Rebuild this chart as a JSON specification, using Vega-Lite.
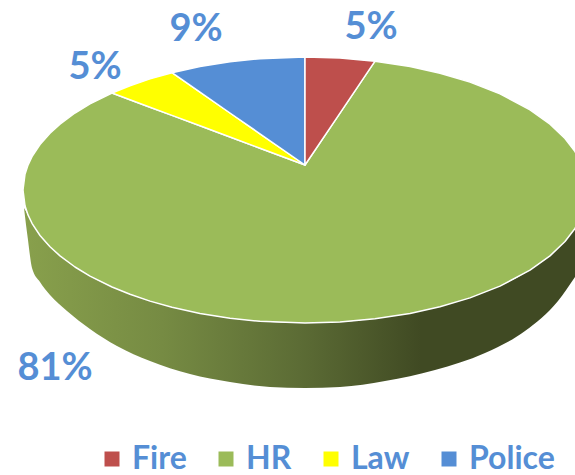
{"$schema":"https://vega.github.io/schema/vega-lite/v6.json","width":575,"height":475,"padding":0,"autosize":"none","background":"white","view":{"stroke":null},"config":{"font":"Lato"},
"layer":[
{"data":{"values":[
{"x":24,"top":208,"bottom":208},{"x":28,"top":214.9,"bottom":240},{"x":32,"top":223.3,"bottom":268},{"x":40,"top":235.5,"bottom":282},{"x":50,"top":246.8,"bottom":295},{"x":67,"top":261,"bottom":311},{"x":90,"top":276.1,"bottom":329},{"x":117,"top":289,"bottom":346},{"x":150,"top":301.1,"bottom":361},{"x":190,"top":311,"bottom":374},{"x":230,"top":318.2,"bottom":382},{"x":270,"top":322,"bottom":387},{"x":305,"top":323,"bottom":388},{"x":340,"top":322,"bottom":387},{"x":385,"top":317,"bottom":381},{"x":435,"top":307.5,"bottom":370},{"x":485,"top":292,"bottom":353},{"x":525,"top":273,"bottom":331},{"x":558,"top":248,"bottom":301},{"x":575,"top":228.4,"bottom":277}]},
"mark":{"type":"area","interpolate":"monotone","clip":true,"fill":{"gradient":"linear","x1":0,"y1":0,"x2":1,"y2":0,"stops":[{"offset":0,"color":"#88A04C"},{"offset":0.25,"color":"#768B43"},{"offset":0.5,"color":"#5C6C35"},{"offset":0.72,"color":"#404A23"},{"offset":1,"color":"#404A23"}]}},
"encoding":{"x":{"field":"x","type":"quantitative","scale":{"domain":[0,575]},"axis":null},"y":{"field":"top","type":"quantitative","scale":{"domain":[475,0]},"axis":null},"y2":{"field":"bottom"}}},
{"data":{"values":[
{"slice":"HR","x":23,"top":190,"bottom":190},{"slice":"HR","x":25,"top":174.2,"bottom":205.8},{"slice":"HR","x":28,"top":165.1,"bottom":214.9},{"slice":"HR","x":32,"top":156.7,"bottom":223.3},{"slice":"HR","x":40,"top":144.5,"bottom":235.5},{"slice":"HR","x":50,"top":133.2,"bottom":246.8},{"slice":"HR","x":60,"top":124.1,"bottom":255.9},{"slice":"HR","x":75,"top":113,"bottom":267},{"slice":"HR","x":90,"top":103.9,"bottom":276.1},{"slice":"HR","x":112,"top":93,"bottom":287},{"slice":"HR","x":130,"top":99.7,"bottom":294.3},{"slice":"HR","x":150,"top":107.2,"bottom":301.1},{"slice":"HR","x":172,"top":115.4,"bottom":307.3},{"slice":"HR","x":200,"top":125.8,"bottom":313.4},{"slice":"HR","x":230,"top":137,"bottom":318.2},{"slice":"HR","x":260,"top":148.2,"bottom":321.3},{"slice":"HR","x":305,"top":165,"bottom":323},{"slice":"HR","x":340,"top":113.1,"bottom":322},{"slice":"HR","x":375,"top":61.2,"bottom":318.8},{"slice":"HR","x":410,"top":66.6,"bottom":313.4},{"slice":"HR","x":440,"top":73.2,"bottom":306.8},{"slice":"HR","x":470,"top":82.1,"bottom":297.9},{"slice":"HR","x":500,"top":93.9,"bottom":286.1},{"slice":"HR","x":530,"top":109.8,"bottom":270.2},{"slice":"HR","x":550,"top":124.1,"bottom":255.9},{"slice":"HR","x":565,"top":138.5,"bottom":241.5},{"slice":"HR","x":575,"top":151.6,"bottom":228.4},{"slice":"HR","x":580,"top":160.6,"bottom":219.4},{"slice":"HR","x":587,"top":190,"bottom":190},
{"slice":"Law","x":112,"top":93,"bottom":93},{"slice":"Law","x":130,"top":85.7,"bottom":99.7},{"slice":"Law","x":150,"top":78.9,"bottom":107.2},{"slice":"Law","x":172,"top":72.7,"bottom":115.4},{"slice":"Law","x":200,"top":92.1,"bottom":125.8},{"slice":"Law","x":230,"top":113,"bottom":137},{"slice":"Law","x":260,"top":133.8,"bottom":148.2},{"slice":"Law","x":305,"top":165,"bottom":165},
{"slice":"Police","x":172,"top":72.7,"bottom":72.7},{"slice":"Police","x":200,"top":66.6,"bottom":92.1},{"slice":"Police","x":230,"top":61.8,"bottom":113},{"slice":"Police","x":260,"top":58.7,"bottom":133.8},{"slice":"Police","x":305,"top":57,"bottom":165},
{"slice":"Fire","x":305,"top":57,"bottom":165},{"slice":"Fire","x":340,"top":58,"bottom":113.1},{"slice":"Fire","x":375,"top":61.2,"bottom":61.2}]},
"mark":{"type":"area","stroke":"white","strokeWidth":1.5,"strokeJoin":"round","clip":true},
"encoding":{"x":{"field":"x","type":"quantitative","scale":{"domain":[0,575]},"axis":null},"y":{"field":"top","type":"quantitative","scale":{"domain":[475,0]},"axis":null},"y2":{"field":"bottom"},
"color":{"field":"slice","type":"nominal","scale":{"domain":["Fire","HR","Law","Police"],"range":["#BE4F4C","#9BBB59","#FFFF00","#558ED5"]},
"legend":{"title":null,"orient":"none","legendX":96,"legendY":443,"direction":"horizontal","symbolType":"square","symbolSize":225,"symbolStrokeWidth":0,"symbolOpacity":1,"labelFont":"Lato","labelFontWeight":"bold","labelFontSize":32,"labelColor":"#558ED5","labelOffset":4,"columnPadding":23,"padding":0,"labelLimit":200}}}},
{"data":{"values":[{"slice":"Fire","share":0.05,"lx":371,"ly":28},{"slice":"HR","share":0.81,"lx":55,"ly":369},{"slice":"Law","share":0.05,"lx":95,"ly":68},{"slice":"Police","share":0.09,"lx":196,"ly":30}]},
"mark":{"type":"text","font":"Lato","fontWeight":"bold","fontSize":38,"color":"#558ED5","align":"center","baseline":"middle"},
"encoding":{"x":{"field":"lx","type":"quantitative","scale":{"domain":[0,575]},"axis":null},"y":{"field":"ly","type":"quantitative","scale":{"domain":[475,0]},"axis":null},"text":{"field":"share","type":"quantitative","format":".0%"}}}
]}
